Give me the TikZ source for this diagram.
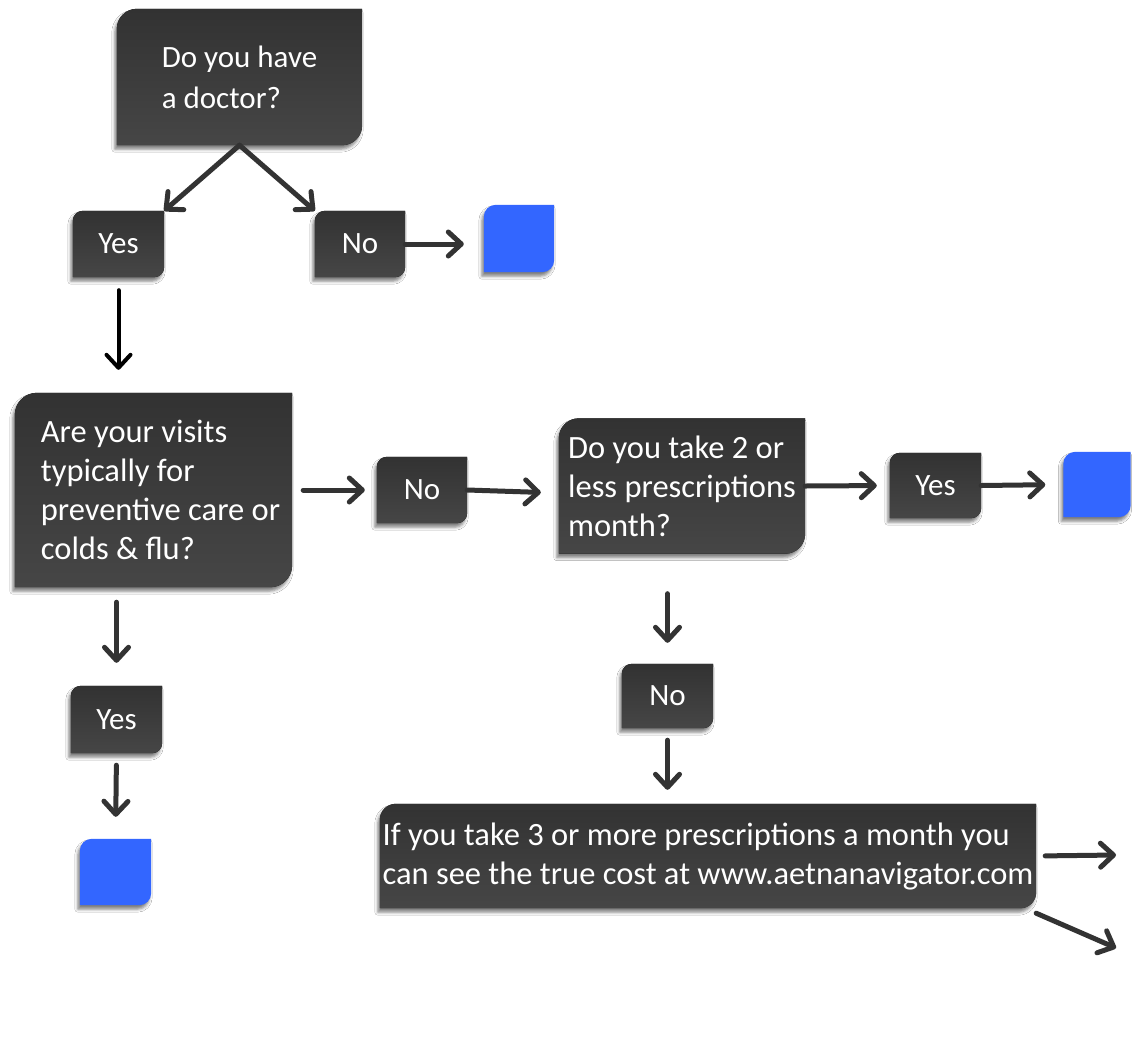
\documentclass[tikz,border=0pt]{standalone}
\usepackage{fontspec}
\setmainfont{Carlito}
\usetikzlibrary{arrows.meta,backgrounds,shadows.blur}

\definecolor{boxtop}{HTML}{323232}
\definecolor{boxbot}{HTML}{464646}
\definecolor{endblue}{HTML}{3366FF}
\definecolor{arrgray}{HTML}{333333}

\tikzset{
  qbox/.style={text=white, align=left, inner sep=0pt, font=\fontsize{31}{41}\selectfont},
  bigtext/.style={font=\fontsize{32.5}{39}\selectfont},
  endbox/.style={inner sep=0pt},
  arr/.style={draw=arrgray, line width=5pt, line cap=round,
    -{Straight Barb[length=13pt,width=24pt,line cap=round,line join=round]}},
  boxfill/.style={top color=boxtop, bottom color=boxbot,
    blur shadow={shadow xshift=-2pt, shadow yshift=-4pt, shadow blur radius=3pt, shadow opacity=50}},
  bluefill/.style={fill=endblue,
    blur shadow={shadow xshift=-2pt, shadow yshift=-4pt, shadow blur radius=3pt, shadow opacity=50}}
}

\begin{document}
\begin{tikzpicture}[x=1pt,y=-1pt]
\useasboundingbox (0,0) rectangle (1134,1052);

\node[qbox, minimum width=245pt, minimum height=136pt] (doctor) at (239.5,77) {Do you have\\a doctor?};
\node[qbox, minimum width=91pt, minimum height=66pt] (yes1) at (118.5,244) {Yes};
\node[qbox, minimum width=90pt, minimum height=66pt] (no1) at (360,244) {No};
\node[endbox, minimum width=70pt, minimum height=67pt] (end1) at (519,238.5) {};

\node[qbox, bigtext, minimum width=277pt, minimum height=194pt] (visits) at (153.5,490) {\hspace*{14pt}Are your visits\\\hspace*{14pt}typically for\\\hspace*{14pt}preventive care or\\\hspace*{14pt}colds \& flu?};
\node[qbox, minimum width=90pt, minimum height=66pt] (no2) at (422,490) {No};
\node[qbox, bigtext, minimum width=246pt, minimum height=135pt] (rx) at (682,486) {Do you take 2 or\\less prescriptions\\month?};
\node[qbox, minimum width=91pt, minimum height=65pt] (yes2) at (935.5,485.5) {Yes};
\node[endbox, minimum width=67pt, minimum height=65pt] (end2) at (1097,484.5) {};

\node[qbox, minimum width=91pt, minimum height=64pt] (no3) at (667.5,696) {No};
\node[qbox, bigtext, minimum width=656pt, minimum height=104pt] (cost) at (708,856) {If you take 3 or more prescriptions a month you\\can see the true cost at www.aetnanavigator.com};
\coordinate (out1) at (1116,855);
\coordinate (out2) at (1116,948);

\node[qbox, minimum width=91pt, minimum height=67pt] (yes3) at (116.5,719.5) {Yes};
\node[endbox, minimum width=71pt, minimum height=66pt] (end3) at (115.5,872) {};

\begin{pgfonlayer}{background}
\fill[white] (0,0) rectangle (1134,1052);
\foreach \n/\r in {doctor/20pt,yes1/10pt,no1/10pt,visits/22pt,no2/10pt,rx/20pt,yes2/10pt,no3/10pt,cost/16pt,yes3/10pt}
  \fill[boxfill] (\n.south west) [rounded corners=\r] -- (\n.north west) [sharp corners] -- (\n.north east)
    [rounded corners=\r] -- (\n.south east) [sharp corners] -- cycle;
\foreach \n in {end1,end2,end3}
  \fill[bluefill] (\n.south west) [rounded corners=12pt] -- (\n.north west) [sharp corners] -- (\n.north east)
    [rounded corners=12pt] -- (\n.south east) [sharp corners] -- cycle;
\end{pgfonlayer}

\draw[arr] (doctor.south) -- (yes1.north east);
\draw[arr] (doctor.south) -- (no1.north west);
\draw[arr, shorten >=20pt] (no1.east) -- (no1.east -| end1.west);
\draw[arr, draw=black, line width=4pt, shorten <=13pt, shorten >=23pt] (yes1.south) -- (yes1.south |- visits.north);
\draw[arr, shorten <=11pt, shorten >=12pt] (visits.east |- no2.west) -- (no2.west);
\draw[arr, shorten >=18pt] (no2.east) -- ([yshift=-7pt]rx.west);
\draw[arr, shorten >=13pt] (rx.east) -- (yes2.west);
\draw[arr, shorten >=18pt] (yes2.east) -- (end2.west);
\draw[arr, shorten <=40pt, shorten >=21pt] (no3.north |- rx.south) -- (no3.north);
\draw[arr, shorten <=12pt, shorten >=14pt] (no3.south) -- (no3.south |- cost.north);
\draw[arr, shorten <=15pt, shorten >=23pt] (yes3.north |- visits.south) -- (yes3.north);
\draw[arr, shorten <=12pt, shorten >=22pt] (yes3.south) -- (end3.north);
\draw[arr, shorten <=9pt] (cost.east) -- (out1);
\draw[arr] ([yshift=-5pt]cost.south east) -- (out2);
\end{tikzpicture}
\end{document}
